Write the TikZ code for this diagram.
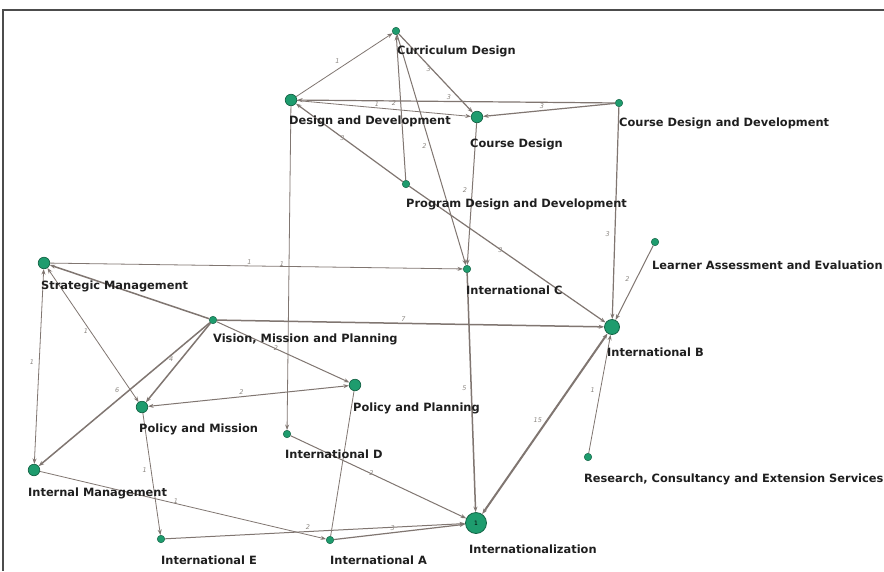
\documentclass[tikz,border=0pt]{standalone}
\usepackage{fontspec}
\setmainfont{DejaVu Sans}
\usetikzlibrary{arrows.meta}
\definecolor{ngreen}{RGB}{30,156,110}
\definecolor{nring}{RGB}{20,100,70}
\definecolor{egray}{RGB}{128,118,113}
\definecolor{lgray}{RGB}{140,135,130}
\tikzset{
  vsmall/.style={circle,fill=ngreen,draw=nring,line width=0.5pt,minimum size=7.5pt,inner sep=0pt},
  vmed/.style={circle,fill=ngreen,draw=nring,line width=0.7pt,minimum size=11.5pt,inner sep=0pt},
  vbigB/.style={circle,fill=ngreen,draw=nring,line width=0.8pt,minimum size=15pt,inner sep=0pt},
  vbigI/.style={circle,fill=ngreen,draw=nring,line width=0.8pt,minimum size=21pt,inner sep=0pt,font=\fontsize{6}{6}\selectfont},
  vtext/.style={anchor=west,inner sep=0pt,font=\bfseries\fontsize{11.4}{13}\selectfont,text=black!88},
  edge/.style={draw=egray,-{Stealth[length=5.5pt,width=4pt]},line width=0.8pt},
  bedge/.style={draw=egray,{Stealth[length=5.5pt,width=4pt]}-{Stealth[length=5.5pt,width=4pt]},line width=0.8pt},
  wa/.style={line width=0.8pt},
  wb/.style={line width=1.0pt},
  wc/.style={line width=1.2pt},
  wd/.style={line width=1.5pt},
  we/.style={line width=2.0pt},
  elabel/.style={font=\itshape\fontsize{6.5}{6.5}\selectfont,text=lgray,inner sep=0pt,xshift=-7pt,yshift=4pt}
}
\begin{document}
\begin{tikzpicture}[x=1pt,y=-1pt]
\useasboundingbox (0,0) rectangle (884,571);
\fill[white] (0,0) rectangle (884,571);
\draw[line width=1.3pt,black!70] (884,10) -- (3,10) -- (3,571);
% vertices
\node[vsmall] (CD) at (396,31) {};
\node[vmed] (DD) at (291,100) {};
\node[vmed] (CoD) at (477,117) {};
\node[vsmall] (CDD) at (619,103) {};
\node[vsmall] (PDD) at (406,184) {};
\node[vsmall] (IC) at (467,269) {};
\node[vmed] (SM) at (44,263) {};
\node[vsmall] (LAE) at (655,242) {};
\node[vsmall] (VMP) at (213,320) {};
\node[vbigB] (IB) at (612,327) {};
\node[vmed] (PP) at (355,385) {};
\node[vmed] (PM) at (142,407) {};
\node[vsmall] (ID) at (287,434) {};
\node[vmed] (IM) at (34,470) {};
\node[vsmall] (RC) at (588,457) {};
\node[vsmall] (IE) at (161,539) {};
\node[vsmall] (IA) at (330,540) {};
\node[vbigI] (IN) at (476,523) {1};
% edges
\path[edge,wa] (DD) -- node[elabel]{1} (CD);
\path[edge,wc] (CD) -- node[elabel]{3} (CoD);
\path[edge,wb] (PDD) -- node[elabel]{2} (CD);
\path[edge,wb] (CD) -- node[elabel]{2} (IC);
\path[edge,wc] (CDD) -- node[elabel]{3} (DD);
\path[edge,wc] (CDD) -- node[elabel]{3} (CoD);
\path[edge,wa] (DD) -- node[elabel]{1} (CoD);
\path[edge,wc] (PDD) -- node[elabel]{3} (DD);
\path[edge,wc] (PDD) -- node[elabel]{3} (IB);
\path[edge,wb] (CoD) -- node[elabel]{2} (IC);
\path[edge,wc] (CDD) -- node[elabel,pos=0.62]{3} (IB);
\path[edge,wa] (DD) -- node[elabel]{1} (ID);
\path[edge,wa] (SM) -- node[elabel]{1} (IC);
\path[edge,wd] (VMP) -- (SM);
\path[bedge,wa] (SM) -- node[elabel]{1} (PM);
\path[bedge,wa] (SM) -- node[elabel]{1} (IM);
\path[edge,wd] (VMP) -- node[elabel]{7} (IB);
\path[edge,wb] (VMP) -- node[elabel]{2} (PP);
\path[edge,wd] (VMP) -- node[elabel]{4} (PM);
\path[edge,wd] (VMP) -- node[elabel]{6} (IM);
\path[bedge,wb] (PP) -- node[elabel]{2} (PM);
\path[edge,wa] (PM) -- node[elabel]{1} (IE);
\path[edge,wa] (IM) -- node[elabel]{1} (IA);
\path[edge,wb] (IE) -- node[elabel]{2} (IN);
\path[edge,wc] (IA) -- node[elabel]{3} (IN);
\path[draw=egray,wa] (PP) -- (IA);
\path[edge,wb] (ID) -- node[elabel]{2} (IN);
\path[edge,wd] (IC) -- node[elabel]{5} (IN);
\path[bedge,we] (IB) -- node[elabel]{15} (IN);
\path[edge,wa] (RC) -- node[elabel]{1} (IB);
\path[edge,wb] (LAE) -- node[elabel]{2} (IB);
% labels
\node[vtext] (tCD) at (397,51) {Curriculum Design};
\node[vtext] (tDD) at (289,121) {Design and Development};
\node[vtext] (tCoD) at (470,144) {Course Design};
\node[vtext] (tCDD) at (619,123) {Course Design and Development};
\node[vtext] (tPDD) at (406,204) {Program Design and Development};
\node[vtext] (tIC) at (466,290) {International C};
\node[vtext] (tSM) at (41,286) {Strategic Management};
\node[vtext] (tLAE) at (652,265) {Learner Assessment and Evaluation};
\node[vtext] (tVMP) at (213,339) {Vision, Mission and Planning};
\node[vtext] (tIB) at (607,352) {International B};
\node[vtext] (tPP) at (353,408) {Policy and Planning};
\node[vtext] (tPM) at (139,429) {Policy and Mission};
\node[vtext] (tID) at (285,454) {International D};
\node[vtext] (tIM) at (28,493) {Internal Management};
\node[vtext] (tRC) at (584,479) {Research, Consultancy and Extension Services};
\node[vtext] (tIE) at (161,560) {International E};
\node[vtext] (tIA) at (330,560) {International A};
\node[vtext] (tIN) at (469,549) {Internationalization};
\end{tikzpicture}
\end{document}
